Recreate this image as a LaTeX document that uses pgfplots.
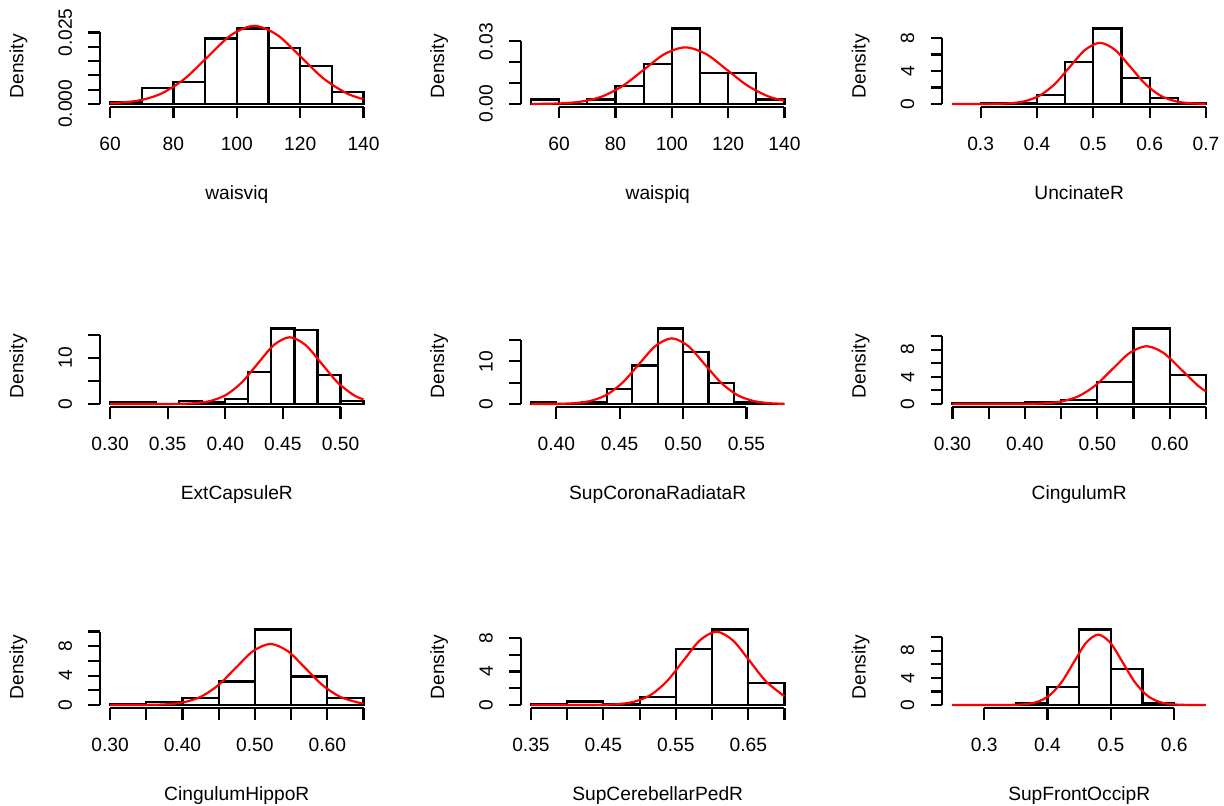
\documentclass[border=0pt]{standalone}
\usepackage{fontspec}
\setmainfont{Liberation Sans}
\usepackage{pgfplots}
\pgfplotsset{compat=1.18}

% R-style histogram panel: axis lines drawn by hand from first to last tick
\pgfplotsset{
  rhist/.style={
    scale only axis, width=136.9pt, height=40.75pt,
    anchor=south west, clip=false,
    axis x line*=bottom, axis y line*=left,
    axis line style={draw=none},
    scaled ticks=false,
    tick align=outside, major tick length=5.75pt, minor tick num=0,
    every tick/.style={black, line width=1.1pt},
    tick label style={font=\fontsize{9.6}{11}\selectfont, inner sep=0pt},
    xticklabel style={anchor=north},
    xticklabel shift=9.25pt,
    yticklabel style={rotate=90, anchor=south},
    yticklabel shift=8pt,
    label style={font=\fontsize{9.6}{11}\selectfont},
    ylabel={Density},
    ylabel style={at={(axis description cs:-0.298,0.5)}, anchor=center},
    xlabel style={at={(axis description cs:0.5,-1.135)}, anchor=base},
  },
  bars/.style={ybar interval, draw=black, fill=none, line width=1.1pt},
  dens/.style={red, line width=1.1pt, smooth},
}
\tikzset{rax/.style={line width=1.1pt}}

\begin{document}
\begin{tikzpicture}

% ---------- row 1 ----------
\begin{axis}[rhist, at={(49.95pt,-53.5pt)}, xlabel={waisviq},
  xmin=56.8, xmax=143.2, ymin=-0.001056, ymax=0.027446,
  xtick={60,80,100,120,140}, xticklabels={60,80,100,120,140},
  ytick={0,0.005,0.01,0.015,0.02,0.025}, yticklabels={0.000,,,,,0.025}]
\addplot[bars] coordinates {(60,0.000694) (70,0.00556) (80,0.00764) (90,0.02292) (100,0.02639) (110,0.01944) (120,0.01319) (130,0.00417) (140,0)};
\addplot[dens] coordinates {(60,0.000212) (69,0.00120) (76.3,0.00370) (83.6,0.00887) (90.9,0.01657) (98.2,0.02411) (105.5,0.02733) (112.8,0.02411) (120.1,0.01657) (127.4,0.00887) (134.7,0.00370) (140,0.001675)};
\draw[rax] (axis cs:60,-0.001056) -- (axis cs:140,-0.001056);
\draw[rax] (axis cs:56.8,0) -- (axis cs:56.8,0.025);
\end{axis}

\begin{axis}[rhist, at={(260.4pt,-53.5pt)}, xlabel={waispiq},
  xmin=46.4, xmax=143.6, ymin=-0.001447, ymax=0.037617,
  xtick={60,80,100,120,140}, xticklabels={60,80,100,120,140},
  ytick={0,0.01,0.02,0.03}, yticklabels={0.00,,,0.03}]
\addplot[bars] coordinates {(50,0.00213) (60,0) (70,0.00213) (80,0.00851) (90,0.01915) (100,0.03617) (110,0.01489) (120,0.01489) (130,0.00213) (140,0)};
\addplot[dens] coordinates {(50,0.000026) (53.35,0.000059) (60.7,0.000302) (68.05,0.00119) (75.4,0.00367) (82.75,0.00881) (90.1,0.01646) (97.45,0.02395) (104.8,0.02714) (112.15,0.02395) (119.5,0.01646) (126.85,0.00881) (134.2,0.00367) (140,0.00154)};
\draw[rax] (axis cs:60,-0.001447) -- (axis cs:140,-0.001447);
\draw[rax] (axis cs:46.4,0) -- (axis cs:46.4,0.03);
\end{axis}

\begin{axis}[rhist, at={(471.15pt,-53.5pt)}, xlabel={UncinateR},
  xmin=0.232, xmax=0.718, ymin=-0.3668, ymax=9.5368,
  xtick={0.3,0.4,0.5,0.6,0.7}, xticklabels={0.3,0.4,0.5,0.6,0.7},
  ytick={0,2,4,6,8}, yticklabels={0,,4,,8}]
\addplot[bars] coordinates {(0.25,0) (0.30,0.139) (0.35,0.139) (0.40,1.11) (0.45,5.14) (0.50,9.17) (0.55,3.19) (0.60,0.69) (0.65,0.139) (0.70,0)};
\addplot[dens] coordinates {(0.25,0) (0.2972,0.0025) (0.32405,0.0163) (0.3509,0.0825) (0.37775,0.3264) (0.4046,1.0054) (0.43145,2.4119) (0.4583,4.506) (0.48515,6.5562) (0.512,7.429) (0.53885,6.5562) (0.5657,4.506) (0.59255,2.4119) (0.6194,1.0054) (0.64625,0.3264) (0.6731,0.0825) (0.70,0.0163)};
\draw[rax] (axis cs:0.3,-0.3668) -- (axis cs:0.7,-0.3668);
\draw[rax] (axis cs:0.232,0) -- (axis cs:0.232,8);
\end{axis}

% ---------- row 2 ----------
\begin{axis}[rhist, at={(49.95pt,-203.5pt)}, xlabel={ExtCapsuleR},
  xmin=0.2912, xmax=0.5288, ymin=-0.6528, ymax=16.973,
  xtick={0.30,0.35,0.40,0.45,0.50}, xticklabels={0.30,0.35,0.40,0.45,0.50},
  ytick={0,5,10,15}, yticklabels={0,,10,}]
\addplot[bars] coordinates {(0.30,0.347) (0.32,0.347) (0.34,0) (0.36,0.694) (0.38,0.347) (0.40,1.04) (0.42,6.94) (0.44,16.32) (0.46,15.97) (0.48,6.25) (0.50,0.694) (0.52,0)};
\addplot[dens] coordinates {(0.30,0) (0.3453,0.0049) (0.35913,0.0316) (0.37295,0.1603) (0.38678,0.6339) (0.4006,1.9526) (0.41443,4.6842) (0.42825,8.7511) (0.44208,12.733) (0.4559,14.428) (0.46973,12.733) (0.48355,8.7511) (0.49738,4.6842) (0.5112,1.9526) (0.52,0.9827)};
\draw[rax] (axis cs:0.30,-0.6528) -- (axis cs:0.50,-0.6528);
\draw[rax] (axis cs:0.2912,0) -- (axis cs:0.2912,15);
\end{axis}

\begin{axis}[rhist, at={(260.4pt,-203.5pt)}, xlabel={SupCoronaRadiataR},
  xmin=0.372, xmax=0.588, ymin=-0.708, ymax=18.418,
  xtick={0.40,0.45,0.50,0.55}, xticklabels={0.40,0.45,0.50,0.55},
  ytick={0,5,10,15}, yticklabels={0,,10,}]
\addplot[bars] coordinates {(0.38,0.35) (0.40,0) (0.42,0.35) (0.44,3.47) (0.46,9.03) (0.48,17.71) (0.50,12.15) (0.52,4.86) (0.54,0.35) (0.56,0) (0.58,0)};
\addplot[dens] coordinates {(0.38,0.0015) (0.3875,0.0052) (0.40045,0.0337) (0.4134,0.1711) (0.42635,0.6768) (0.4393,2.0846) (0.45225,5.0007) (0.4652,9.3424) (0.47815,13.593) (0.4911,15.403) (0.50405,13.593) (0.517,9.3424) (0.52995,5.0007) (0.5429,2.0846) (0.55585,0.6768) (0.5688,0.1711) (0.58,0.0426)};
\draw[rax] (axis cs:0.40,-0.708) -- (axis cs:0.55,-0.708);
\draw[rax] (axis cs:0.372,0) -- (axis cs:0.372,15);
\end{axis}

\begin{axis}[rhist, at={(471.15pt,-203.5pt)}, xlabel={CingulumR},
  xmin=0.286, xmax=0.664, ymin=-0.444, ymax=11.554,
  xtick={0.30,0.35,0.40,0.45,0.50,0.55,0.60,0.65}, xticklabels={0.30,,0.40,,0.50,,0.60,},
  ytick={0,2,4,6,8,10}, yticklabels={0,,4,,8,}]
\addplot[bars] coordinates {(0.30,0.139) (0.35,0.139) (0.40,0.278) (0.45,0.556) (0.50,3.19) (0.55,11.11) (0.60,4.31) (0.65,0)};
\addplot[dens] coordinates {(0.30,0) (0.35695,0.0003) (0.3804,0.0029) (0.40385,0.0186) (0.4273,0.0945) (0.45075,0.3737) (0.4742,1.1512) (0.49765,2.7616) (0.5211,5.1594) (0.54455,7.5068) (0.568,8.5062) (0.59145,7.5068) (0.6149,5.1594) (0.63835,2.7616) (0.65,1.843)};
\draw[rax] (axis cs:0.30,-0.444) -- (axis cs:0.65,-0.444);
\draw[rax] (axis cs:0.286,0) -- (axis cs:0.286,10);
\end{axis}

% ---------- row 3 ----------
\begin{axis}[rhist, at={(49.95pt,-354pt)}, xlabel={CingulumHippoR},
  xmin=0.286, xmax=0.664, ymin=-0.411, ymax=10.69,
  xtick={0.30,0.35,0.40,0.45,0.50,0.55,0.60,0.65}, xticklabels={0.30,,0.40,,0.50,,0.60,},
  ytick={0,2,4,6,8,10}, yticklabels={0,,4,,8,}]
\addplot[bars] coordinates {(0.30,0.139) (0.35,0.417) (0.40,0.972) (0.45,3.19) (0.50,10.28) (0.55,3.89) (0.60,0.972) (0.65,0)};
\addplot[dens] coordinates {(0.30,0.0002) (0.3294,0.0028) (0.3534,0.0182) (0.3774,0.0923) (0.4014,0.3652) (0.4254,1.1248) (0.4494,2.6983) (0.4734,5.0411) (0.4974,7.3347) (0.5214,8.3113) (0.5454,7.3347) (0.5694,5.0411) (0.5934,2.6983) (0.6174,1.1248) (0.6414,0.3652) (0.65,0.2296)};
\draw[rax] (axis cs:0.30,-0.411) -- (axis cs:0.65,-0.411);
\draw[rax] (axis cs:0.286,0) -- (axis cs:0.286,10);
\end{axis}

\begin{axis}[rhist, at={(260.4pt,-354pt)}, xlabel={SupCerebellarPedR},
  xmin=0.336, xmax=0.714, ymin=-0.361, ymax=9.391,
  xtick={0.35,0.40,0.45,0.50,0.55,0.60,0.65,0.70}, xticklabels={0.35,,0.45,,0.55,,0.65,},
  ytick={0,2,4,6,8}, yticklabels={0,,4,,8}]
\addplot[bars] coordinates {(0.35,0.139) (0.40,0.417) (0.45,0.139) (0.50,0.972) (0.55,6.67) (0.60,9.03) (0.65,2.64) (0.70,0)};
\addplot[dens] coordinates {(0.35,0) (0.40075,0.0004) (0.424,0.003) (0.44675,0.0192) (0.4695,0.0974) (0.49225,0.3852) (0.515,1.1866) (0.53775,2.8465) (0.5605,5.318) (0.58325,7.7377) (0.606,8.7679) (0.62875,7.7377) (0.6515,5.318) (0.67425,2.8465) (0.70,1.037)};
\draw[rax] (axis cs:0.35,-0.361) -- (axis cs:0.70,-0.361);
\draw[rax] (axis cs:0.336,0) -- (axis cs:0.336,8);
\end{axis}

\begin{axis}[rhist, at={(471.15pt,-354pt)}, xlabel={SupFrontOccipR},
  xmin=0.234, xmax=0.666, ymin=-0.444, ymax=11.554,
  xtick={0.3,0.4,0.5,0.6}, xticklabels={0.3,0.4,0.5,0.6},
  ytick={0,2,4,6,8,10}, yticklabels={0,,4,,8,}]
\addplot[bars] coordinates {(0.25,0) (0.30,0) (0.35,0.278) (0.40,2.64) (0.45,11.11) (0.50,5.28) (0.55,0.278) (0.60,0) (0.65,0)};
\addplot[dens] coordinates {(0.25,0) (0.2875,0) (0.30675,0.0004) (0.326,0.0035) (0.34525,0.0227) (0.3645,0.1151) (0.38375,0.4553) (0.403,1.4024) (0.42225,3.3641) (0.4415,6.285) (0.46075,9.1446) (0.48,10.362) (0.49925,9.1446) (0.5185,6.285) (0.53775,3.3641) (0.557,1.4024) (0.57625,0.4553) (0.5955,0.1151) (0.61475,0.0227) (0.634,0.0035) (0.65,0.0008)};
\draw[rax] (axis cs:0.3,-0.444) -- (axis cs:0.6,-0.444);
\draw[rax] (axis cs:0.234,0) -- (axis cs:0.234,10);
\end{axis}

\pgfresetboundingbox
\useasboundingbox (0,0) rectangle (612pt,-403pt);
\end{tikzpicture}
\end{document}
